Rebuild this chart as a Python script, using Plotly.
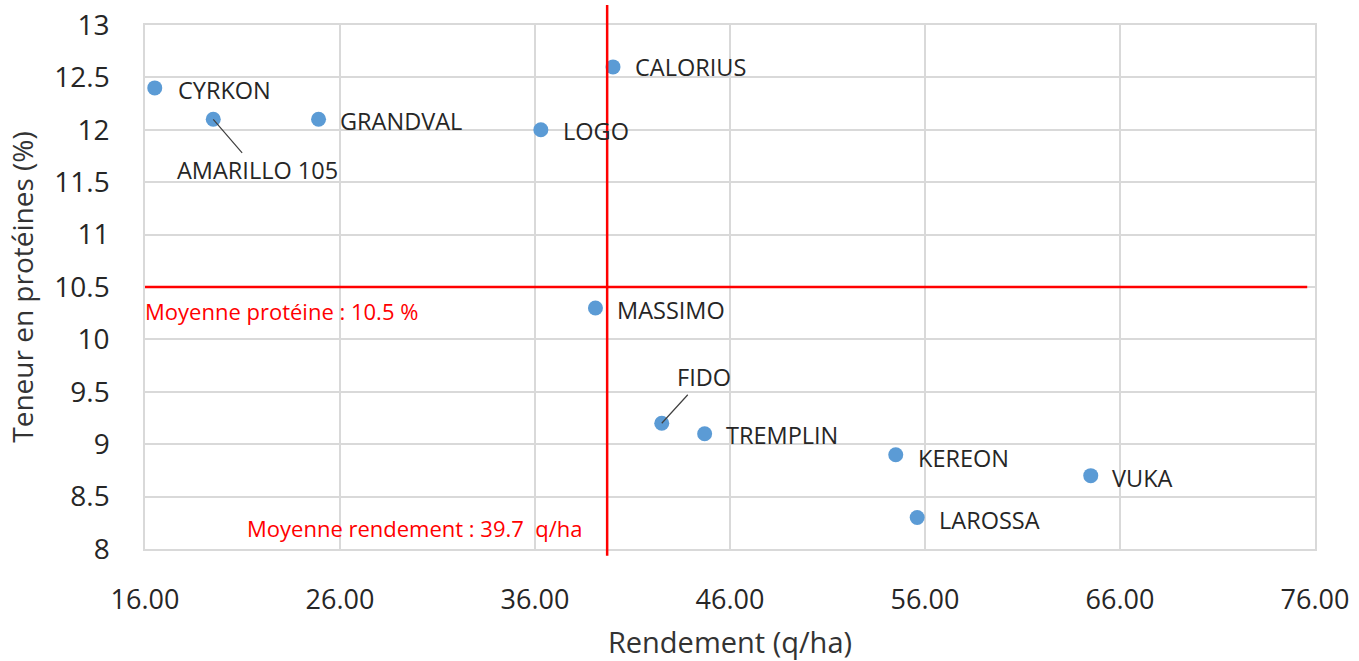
import plotly.graph_objects as go

names = ["CYRKON", "AMARILLO 105", "GRANDVAL", "LOGO", "CALORIUS", "MASSIMO",
         "FIDO", "TREMPLIN", "KEREON", "LAROSSA", "VUKA"]
rendement = [16.5, 19.5, 24.9, 36.3, 40.0, 39.1, 42.5, 44.7, 54.5, 55.6, 64.5]
proteine = [12.4, 12.1, 12.1, 12.0, 12.6, 10.3, 9.2, 9.1, 8.9, 8.3, 8.7]
moy_rendement = 39.7
moy_proteine = 10.5
x_ticks = [16, 26, 36, 46, 56, 66, 76]
y_ticks = [8, 8.5, 9, 9.5, 10, 10.5, 11, 11.5, 12, 12.5, 13]

FONT = "Open Sans"
LBL = 23.5

fig = go.Figure()
fig.add_trace(go.Scatter(
    x=rendement, y=proteine, mode="markers",
    marker=dict(color="#5B9BD5", size=15),
    hoverinfo="text", text=names, showlegend=False, cliponaxis=False))

# label offsets (pixels) for each point
label_offsets = {
    "CYRKON": (21, 2), "GRANDVAL": (19, 2), "LOGO": (20, 1),
    "CALORIUS": (20, 0), "MASSIMO": (20, 2), "TREMPLIN": (19, 1),
    "KEREON": (20, 3), "LAROSSA": (20, 2), "VUKA": (19, 2),
}
arrow_labels = {"AMARILLO 105": (44, 51), "FIDO": (42, -46)}

for n, xv, yv in zip(names, rendement, proteine):
    if n in arrow_labels:
        ax, ay = arrow_labels[n]
        fig.add_annotation(x=xv, y=yv, xref="x", yref="y", text=n,
                           showarrow=True, arrowhead=0, arrowwidth=1.2,
                           arrowcolor="#404040", ax=ax, ay=ay,
                           font=dict(family=FONT, size=LBL, color="#262626"))
    else:
        dx, dy = label_offsets[n]
        fig.add_annotation(x=xv, y=yv, xref="x", yref="y", text=n,
                           showarrow=False, xanchor="left", yanchor="middle",
                           xshift=dx, yshift=-dy,
                           font=dict(family=FONT, size=LBL, color="#262626"))

# mean lines
fig.add_shape(type="line", xref="x", yref="y", x0=16, x1=75.6,
              y0=moy_proteine, y1=moy_proteine,
              line=dict(color="#FF0000", width=2.5))
fig.add_shape(type="line", xref="x", yref="paper", x0=moy_rendement,
              x1=moy_rendement, y0=-0.013, y1=1.038,
              line=dict(color="#FF0000", width=2.5))

fig.add_annotation(x=16, y=moy_proteine, xref="x", yref="y",
                   text=f"Moyenne protéine : {moy_proteine} %",
                   showarrow=False, xanchor="left", yanchor="middle",
                   xshift=-2, yshift=-24,
                   font=dict(family=FONT, size=22, color="#FF0000"))
fig.add_annotation(x=moy_rendement, y=8, xref="x", yref="y",
                   text=f"Moyenne rendement : {moy_rendement}  q/ha",
                   showarrow=False, xanchor="right", yanchor="middle",
                   xshift=-22, yshift=21,
                   font=dict(family=FONT, size=22, color="#FF0000"))

fig.update_layout(
    width=1359, height=661,
    margin=dict(l=145, r=44, t=25, b=112),
    paper_bgcolor="white", plot_bgcolor="white",
    font=dict(family=FONT, color="#262626"),
    xaxis=dict(range=[16, 76], tickvals=x_ticks,
               ticktext=[f"{v:.2f}" for v in x_ticks],
               showgrid=True, gridcolor="#D9D9D9", gridwidth=1.5,
               zeroline=False, showline=True, linecolor="#D9D9D9",
               linewidth=1.5, mirror=True, ticks="", automargin=False,
               ticklabelstandoff=26,
               tickfont=dict(size=27, family=FONT, color="#262626"),
               title=dict(text="Rendement (q/ha)", standoff=31,
                          font=dict(size=29, family=FONT, color="#333333"))),
    yaxis=dict(range=[8, 13], tickvals=y_ticks,
               ticktext=[f"{v:g}" for v in y_ticks],
               showgrid=True, gridcolor="#D9D9D9", gridwidth=1.5,
               zeroline=False, showline=True, linecolor="#D9D9D9",
               linewidth=1.5, mirror=True, ticks="", ticklabelstandoff=28,
               automargin=False,
               tickfont=dict(size=28, family=FONT, color="#262626"),
               title=dict(text="Teneur en protéines (%)", standoff=12,
                          font=dict(size=28, family=FONT, color="#333333"))),
)

fig.write_html("out.html", config={"displayModeBar": False},
               post_script="document.body.style.margin='0';"
                           "document.body.style.overflow='hidden';")
